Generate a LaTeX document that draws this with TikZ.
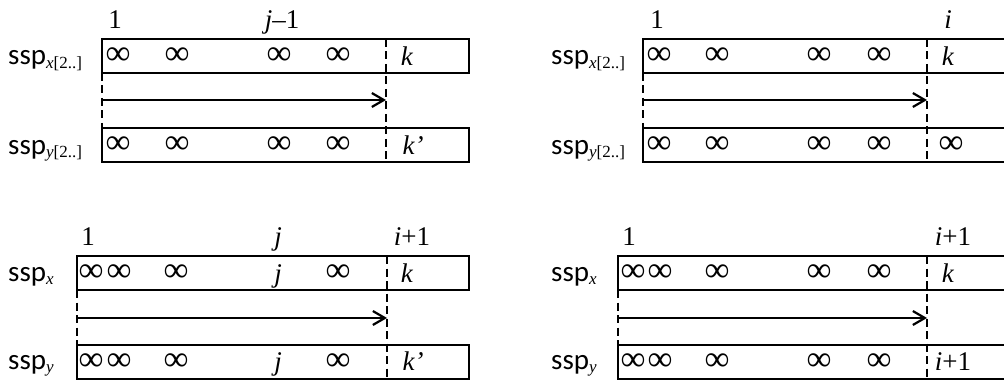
\documentclass[tikz,border=0pt]{standalone}
\usepackage{fontspec}
\setmainfont{Liberation Serif}
\newfontfamily\sspfont{Carlito}
\usetikzlibrary{arrows.meta}

\tikzset{
  frame/.style={line width=2.2pt},
  sep/.style={line width=2.2pt, dash pattern=on 8pt off 4.5pt},
  moveline/.style={line width=2.2pt, -{Straight Barb[length=12pt,width=14pt,line width=2.2pt]}},
  cell/.style={anchor=base, inner sep=0pt, font=\fontsize{27}{30}\selectfont},
  inf/.style={anchor=center, inner sep=0pt, font=\fontsize{35}{37}\selectfont},
  idx/.style={anchor=base, inner sep=0pt, font=\fontsize{27}{30}\selectfont},
  arr/.style={anchor=base west, inner sep=0pt, font=\fontsize{29}{31}\sspfont},
}
\newcommand{\sub}[1]{\ensuremath{_{\hbox{\fontsize{17}{19}\rmfamily #1}}}}

\begin{document}
\begin{tikzpicture}[x=1pt,y=-1pt]
\useasboundingbox (0,0) rectangle (1004,385);
\clip (0,0) rectangle (1004,385);

% ---------- panel: top left ----------
\coordinate (tlA) at (102,39);  \coordinate (tlB) at (469,73);
\coordinate (tlC) at (102,128); \coordinate (tlD) at (469,162);
\draw[frame] (tlA) rectangle (tlB);
\draw[frame] (tlC) rectangle (tlD);
\coordinate (tlS1) at (386,39);  \coordinate (tlS2) at (386,162);
\draw[sep] (tlS1) -- (tlS2);
\coordinate (tlL1) at (102,73);  \coordinate (tlL2) at (102,128);
\draw[sep] (tlL1) -- (tlL2);
\coordinate (tlP) at (102,100);  \coordinate (tlQ) at (386,100);
\draw[moveline] (tlP) -- (tlQ);
\node[arr] (tlx) at (8,65) {ssp\sub{\textit{x}[2..]}};
\node[arr] (tly) at (8,154) {ssp\sub{\textit{y}[2..]}};
\node[idx] (tl1) at (115,29) {1};
\node[idx] (tlj) at (282,29) {\textit{j}–1};
\foreach \n/\xx in {a/118,b/177,c/279,d/338}{
  \node[inf] (tlx\n) at (\xx,56) {∞};
  \node[inf] (tly\n) at (\xx,145) {∞};
}
\node[cell] (tlxk) at (407,66) {\textit{k}};
\node[cell] (tlyk) at (413,154) {\textit{k’}};

% ---------- panel: top right ----------
\coordinate (trA) at (643,39);  \coordinate (trB) at (1020,73);
\coordinate (trC) at (643,128); \coordinate (trD) at (1020,162);
\draw[frame] (trA) rectangle (trB);
\draw[frame] (trC) rectangle (trD);
\coordinate (trS1) at (927,39);  \coordinate (trS2) at (927,162);
\draw[sep] (trS1) -- (trS2);
\coordinate (trL1) at (643,73);  \coordinate (trL2) at (643,128);
\draw[sep] (trL1) -- (trL2);
\coordinate (trP) at (643,100);  \coordinate (trQ) at (927,100);
\draw[moveline] (trP) -- (trQ);
\node[arr] (trx) at (551,65) {ssp\sub{\textit{x}[2..]}};
\node[arr] (try) at (551,154) {ssp\sub{\textit{y}[2..]}};
\node[idx] (tr1) at (657,29) {1};
\node[idx] (tri) at (948,29) {\textit{i}};
\foreach \n/\xx in {a/659,b/717,c/819,d/879}{
  \node[inf] (trx\n) at (\xx,56) {∞};
  \node[inf] (try\n) at (\xx,145) {∞};
}
\node[cell] (trxk) at (948,66) {\textit{k}};
\node[inf] (tryk) at (951,145) {∞};

% ---------- panel: bottom left ----------
\coordinate (blA) at (77,256);  \coordinate (blB) at (469,290);
\coordinate (blC) at (77,345);  \coordinate (blD) at (469,379);
\draw[frame] (blA) rectangle (blB);
\draw[frame] (blC) rectangle (blD);
\coordinate (blS1) at (387,256); \coordinate (blS2) at (387,379);
\draw[sep] (blS1) -- (blS2);
\coordinate (blL1) at (77,290);  \coordinate (blL2) at (77,345);
\draw[sep] (blL1) -- (blL2);
\coordinate (blP) at (77,318);   \coordinate (blQ) at (387,318);
\draw[moveline] (blP) -- (blQ);
\node[arr] (blx) at (8,281) {ssp\sub{\textit{x}}};
\node[arr] (bly) at (8,369) {ssp\sub{\textit{y}}};
\node[idx] (bl1) at (88,245) {1};
\node[idx] (blj) at (278,245) {\textit{j}};
\node[idx] (bli) at (412,245) {\textit{i}+1};
\foreach \n/\xx in {a/91,b/119,c/176,d/338}{
  \node[inf] (blx\n) at (\xx,273) {∞};
  \node[inf] (bly\n) at (\xx,362) {∞};
}
\node[cell] (blxj) at (278,282) {\textit{j}};
\node[cell] (blyj) at (278,370) {\textit{j}};
\node[cell] (blxk) at (407,282) {\textit{k}};
\node[cell] (blyk) at (413,370) {\textit{k’}};

% ---------- panel: bottom right ----------
\coordinate (brA) at (618,256); \coordinate (brB) at (1020,290);
\coordinate (brC) at (618,345); \coordinate (brD) at (1020,379);
\draw[frame] (brA) rectangle (brB);
\draw[frame] (brC) rectangle (brD);
\coordinate (brS1) at (927,256); \coordinate (brS2) at (927,379);
\draw[sep] (brS1) -- (brS2);
\coordinate (brL1) at (618,290); \coordinate (brL2) at (618,345);
\draw[sep] (brL1) -- (brL2);
\coordinate (brP) at (618,318);  \coordinate (brQ) at (927,318);
\draw[moveline] (brP) -- (brQ);
\node[arr] (brx) at (551,281) {ssp\sub{\textit{x}}};
\node[arr] (bry) at (551,369) {ssp\sub{\textit{y}}};
\node[idx] (br1) at (629,245) {1};
\node[idx] (bri) at (953,245) {\textit{i}+1};
\foreach \n/\xx in {a/633,b/660,c/717,d/819,e/879}{
  \node[inf] (brx\n) at (\xx,273) {∞};
  \node[inf] (bry\n) at (\xx,362) {∞};
}
\node[cell] (brxk) at (948,282) {\textit{k}};
\node[cell] (bryk) at (953,370) {\textit{i}+1};
\end{tikzpicture}
\end{document}
